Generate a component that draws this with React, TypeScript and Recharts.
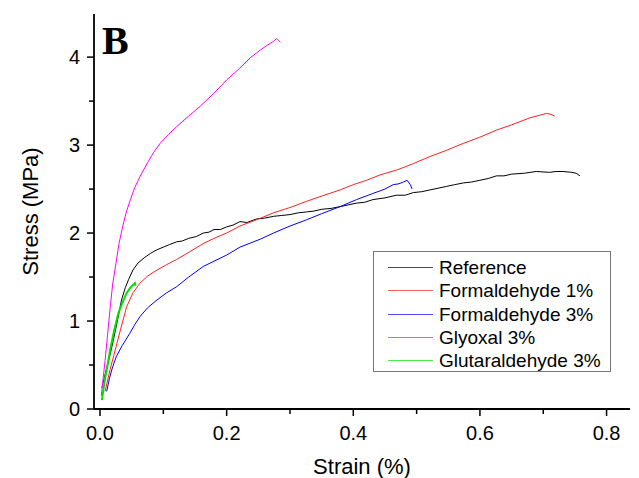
import React from 'react';
import { LineChart, Line, XAxis, YAxis } from 'recharts';

type P = { x: number; y: number };

const xTicks = [0, 0.1, 0.2, 0.3, 0.4, 0.5, 0.6, 0.7, 0.8];
const xMajor = [0, 0.2, 0.4, 0.6, 0.8];
const yTicks = [0, 0.5, 1, 1.5, 2, 2.5, 3, 3.5, 4];
const yMajor = [0, 1, 2, 3, 4];

const referenceData: P[] = [
  { x: 0.003, y: 0.24 }, { x: 0.01, y: 0.45 }, { x: 0.016, y: 0.62 }, { x: 0.021, y: 0.78 },
  { x: 0.028, y: 1.02 }, { x: 0.034, y: 1.24 }, { x: 0.04, y: 1.38 }, { x: 0.045, y: 1.47 },
  { x: 0.052, y: 1.58 }, { x: 0.06, y: 1.66 }, { x: 0.07, y: 1.72 }, { x: 0.08, y: 1.77 },
  { x: 0.09, y: 1.81 }, { x: 0.1, y: 1.84 }, { x: 0.11, y: 1.87 }, { x: 0.121, y: 1.9 },
  { x: 0.13, y: 1.91 }, { x: 0.14, y: 1.94 }, { x: 0.152, y: 1.96 }, { x: 0.163, y: 2.0 },
  { x: 0.172, y: 2.01 }, { x: 0.18, y: 2.04 }, { x: 0.19, y: 2.04 }, { x: 0.2, y: 2.07 },
  { x: 0.21, y: 2.09 }, { x: 0.221, y: 2.13 }, { x: 0.232, y: 2.12 }, { x: 0.247, y: 2.16 },
  { x: 0.26, y: 2.17 }, { x: 0.274, y: 2.19 }, { x: 0.287, y: 2.2 }, { x: 0.3, y: 2.21 },
  { x: 0.313, y: 2.23 }, { x: 0.326, y: 2.24 }, { x: 0.338, y: 2.25 }, { x: 0.35, y: 2.27 },
  { x: 0.365, y: 2.28 }, { x: 0.379, y: 2.3 }, { x: 0.392, y: 2.32 }, { x: 0.405, y: 2.34 },
  { x: 0.418, y: 2.35 }, { x: 0.431, y: 2.38 }, { x: 0.45, y: 2.4 }, { x: 0.468, y: 2.43 },
  { x: 0.482, y: 2.43 }, { x: 0.495, y: 2.46 }, { x: 0.508, y: 2.47 }, { x: 0.521, y: 2.49 },
  { x: 0.534, y: 2.51 }, { x: 0.547, y: 2.53 }, { x: 0.56, y: 2.55 }, { x: 0.574, y: 2.57 },
  { x: 0.587, y: 2.58 }, { x: 0.6, y: 2.6 }, { x: 0.613, y: 2.62 }, { x: 0.626, y: 2.65 },
  { x: 0.638, y: 2.65 }, { x: 0.65, y: 2.67 }, { x: 0.67, y: 2.68 }, { x: 0.689, y: 2.7 },
  { x: 0.71, y: 2.69 }, { x: 0.72, y: 2.7 }, { x: 0.731, y: 2.7 }, { x: 0.745, y: 2.69 },
  { x: 0.752, y: 2.68 }, { x: 0.758, y: 2.65 },
];

const formaldehyde1Data: P[] = [
  { x: 0.008, y: 0.2 }, { x: 0.016, y: 0.45 }, { x: 0.024, y: 0.67 }, { x: 0.033, y: 0.92 },
  { x: 0.042, y: 1.16 }, { x: 0.052, y: 1.32 }, { x: 0.063, y: 1.43 }, { x: 0.075, y: 1.51 },
  { x: 0.09, y: 1.58 }, { x: 0.105, y: 1.64 }, { x: 0.121, y: 1.7 }, { x: 0.14, y: 1.78 },
  { x: 0.163, y: 1.88 }, { x: 0.18, y: 1.94 }, { x: 0.2, y: 2.0 }, { x: 0.221, y: 2.08 },
  { x: 0.247, y: 2.15 }, { x: 0.274, y: 2.23 }, { x: 0.3, y: 2.29 }, { x: 0.326, y: 2.36 },
  { x: 0.35, y: 2.42 }, { x: 0.379, y: 2.49 }, { x: 0.4, y: 2.55 }, { x: 0.421, y: 2.6 },
  { x: 0.442, y: 2.66 }, { x: 0.47, y: 2.72 }, { x: 0.495, y: 2.79 }, { x: 0.521, y: 2.87 },
  { x: 0.547, y: 2.94 }, { x: 0.574, y: 3.02 }, { x: 0.6, y: 3.09 }, { x: 0.626, y: 3.17 },
  { x: 0.65, y: 3.23 }, { x: 0.679, y: 3.31 }, { x: 0.695, y: 3.34 }, { x: 0.705, y: 3.36 },
  { x: 0.712, y: 3.35 }, { x: 0.718, y: 3.33 },
];

const formaldehyde3Data: P[] = [
  { x: 0.0105, y: 0.2 }, { x: 0.015, y: 0.35 }, { x: 0.02, y: 0.48 }, { x: 0.026, y: 0.6 },
  { x: 0.035, y: 0.72 }, { x: 0.047, y: 0.86 }, { x: 0.055, y: 0.96 }, { x: 0.063, y: 1.05 },
  { x: 0.075, y: 1.15 }, { x: 0.09, y: 1.24 }, { x: 0.105, y: 1.32 }, { x: 0.121, y: 1.39 },
  { x: 0.14, y: 1.5 }, { x: 0.163, y: 1.62 }, { x: 0.18, y: 1.68 }, { x: 0.2, y: 1.75 },
  { x: 0.221, y: 1.84 }, { x: 0.253, y: 1.93 }, { x: 0.274, y: 2.0 }, { x: 0.3, y: 2.08 },
  { x: 0.326, y: 2.15 }, { x: 0.35, y: 2.22 }, { x: 0.379, y: 2.3 }, { x: 0.405, y: 2.38 },
  { x: 0.431, y: 2.45 }, { x: 0.45, y: 2.5 }, { x: 0.463, y: 2.55 }, { x: 0.472, y: 2.56 },
  { x: 0.479, y: 2.58 }, { x: 0.485, y: 2.6 }, { x: 0.49, y: 2.55 }, { x: 0.493, y: 2.5 },
];

const glyoxal3Data: P[] = [
  { x: 0.002, y: 0.15 }, { x: 0.005, y: 0.35 }, { x: 0.008, y: 0.55 }, { x: 0.012, y: 0.85 },
  { x: 0.016, y: 1.15 }, { x: 0.02, y: 1.42 }, { x: 0.025, y: 1.65 }, { x: 0.03, y: 1.88 },
  { x: 0.036, y: 2.08 }, { x: 0.042, y: 2.25 }, { x: 0.048, y: 2.38 }, { x: 0.055, y: 2.52 },
  { x: 0.063, y: 2.64 }, { x: 0.075, y: 2.8 }, { x: 0.085, y: 2.92 }, { x: 0.095, y: 3.02 },
  { x: 0.108, y: 3.12 }, { x: 0.121, y: 3.21 }, { x: 0.14, y: 3.33 }, { x: 0.158, y: 3.44 },
  { x: 0.18, y: 3.59 }, { x: 0.2, y: 3.74 }, { x: 0.22, y: 3.87 }, { x: 0.237, y: 3.99 },
  { x: 0.253, y: 4.08 }, { x: 0.265, y: 4.14 }, { x: 0.272, y: 4.17 }, { x: 0.279, y: 4.21 },
  { x: 0.282, y: 4.19 }, { x: 0.285, y: 4.17 },
];

const glutaraldehyde3Data: P[] = [
  { x: 0.003, y: 0.1 }, { x: 0.008, y: 0.35 }, { x: 0.012, y: 0.5 }, { x: 0.016, y: 0.67 },
  { x: 0.022, y: 0.88 }, { x: 0.029, y: 1.09 }, { x: 0.035, y: 1.2 }, { x: 0.042, y: 1.32 },
  { x: 0.048, y: 1.38 }, { x: 0.052, y: 1.41 }, { x: 0.055, y: 1.43 }, { x: 0.056, y: 1.4 },
];

const seriesNames = ['Reference', 'Formaldehyde 1%', 'Formaldehyde 3%', 'Glyoxal 3%', 'Glutaraldehyde 3%'];
const seriesColors = ['#000000', '#ff2020', '#0000ff', '#ff00ff', '#00e000'];
const seriesData = [referenceData, formaldehyde1Data, formaldehyde3Data, glyoxal3Data, glutaraldehyde3Data];

const FONT = '"Liberation Sans", Arial, sans-serif';

const XTick = (props: any) => {
  const { x, y, payload } = props;
  const major = xMajor.some((m) => Math.abs(m - payload.value) < 1e-9);
  return (
    <g>
      <line x1={x} x2={x} y1={y} y2={y + (major ? 7 : 5)} stroke="#000" strokeWidth={1.5} />
      {major && (
        <text x={x} y={y + 31} textAnchor="middle" fontSize={20} fontFamily={FONT} fill="#000">
          {payload.value.toFixed(1)}
        </text>
      )}
    </g>
  );
};

const YTick = (props: any) => {
  const { x, y, payload } = props;
  const major = yMajor.some((m) => Math.abs(m - payload.value) < 1e-9);
  return (
    <g>
      <line x1={x - (major ? 7 : 5)} x2={x} y1={y} y2={y} stroke="#000" strokeWidth={1.5} />
      {major && (
        <text x={x - 14} y={y + 7} textAnchor="end" fontSize={20} fontFamily={FONT} fill="#000">
          {String(payload.value)}
        </text>
      )}
    </g>
  );
};

const LegendBox = () => (
  <div
    style={{
      position: 'absolute',
      left: 373,
      top: 251,
      width: 238,
      height: 121,
      boxSizing: 'border-box',
      border: '1px solid #777',
      background: '#fff',
      paddingTop: 4,
      fontFamily: FONT,
      fontSize: 19,
      color: '#000',
    }}
  >
    {seriesNames.map((n, i) => (
      <div key={n} style={{ display: 'flex', alignItems: 'center', height: 23.3 }}>
        <div style={{ marginLeft: 14, width: 45, height: 1, background: seriesColors[i], opacity: 0.7 }} />
        <span style={{ marginLeft: 6, whiteSpace: 'nowrap', lineHeight: '23px' }}>{n}</span>
      </div>
    ))}
  </div>
);

export default function App() {
  return (
    <div style={{ position: 'absolute', left: 0, top: 0, width: 639, height: 478, background: '#fff' }}>
      <LineChart width={639} height={478} margin={{ top: 14, right: 9, bottom: 0, left: 0 }}>
        <XAxis
          xAxisId="b"
          type="number"
          dataKey="x"
          domain={[-0.0095, 0.837]}
          ticks={xTicks}
          interval={0}
          allowDataOverflow
          height={69}
          tickSize={0}
          tickMargin={0}
          tickLine={false}
          axisLine={{ stroke: '#000', strokeWidth: 1.8 }}
          tick={<XTick />}
          label={{
            content: (p: any) => {
              const vb = p.viewBox;
              return (
                <text x={vb.x + vb.width / 2} y={vb.y + 65} textAnchor="middle" fontSize={22} fontFamily={FONT} fill="#000">
                  Strain (%)
                </text>
              );
            },
          }}
        />
        <XAxis
          xAxisId="t"
          orientation="top"
          type="number"
          dataKey="x"
          domain={[-0.0095, 0.837]}
          allowDataOverflow
          height={0}
          tick={false}
          tickLine={false}
          axisLine={{ stroke: '#000', strokeWidth: 1.8 }}
        />
        <YAxis
          yAxisId="l"
          type="number"
          domain={[0, 4.49]}
          ticks={yTicks}
          interval={0}
          allowDataOverflow
          width={94}
          tickSize={0}
          tickMargin={0}
          tickLine={false}
          axisLine={{ stroke: '#000', strokeWidth: 1.8 }}
          tick={<YTick />}
          label={{
            content: () => (
              <text
                x={30}
                y={211.5}
                transform="rotate(-90 30 211.5)"
                textAnchor="middle"
                dominantBaseline="central"
                fontSize={22}
                fontFamily={FONT}
                fill="#000"
              >
                Stress (MPa)
              </text>
            ),
          }}
        />
        <YAxis
          yAxisId="r"
          orientation="right"
          type="number"
          domain={[0, 4.49]}
          allowDataOverflow
          width={0}
          tick={false}
          tickLine={false}
          axisLine={{ stroke: '#000', strokeWidth: 1.8 }}
        />
        {seriesData.map((d, i) => (
          <Line
            key={seriesNames[i]}
            xAxisId="b"
            yAxisId="l"
            data={d}
            dataKey="y"
            name={seriesNames[i]}
            type="linear"
            stroke={seriesColors[i]}
            strokeWidth={i === 4 ? 2 : 1}
            dot={false}
            activeDot={false}
            isAnimationActive={false}
          />
        ))}
      </LineChart>
      <LegendBox />
      <div
        style={{
          position: 'absolute',
          left: 102,
          top: 17,
          fontFamily: '"Liberation Serif", "Times New Roman", serif',
          fontWeight: 'bold',
          fontSize: 40,
          lineHeight: '48px',
          color: '#000',
        }}
      >
        B
      </div>
    </div>
  );
}
